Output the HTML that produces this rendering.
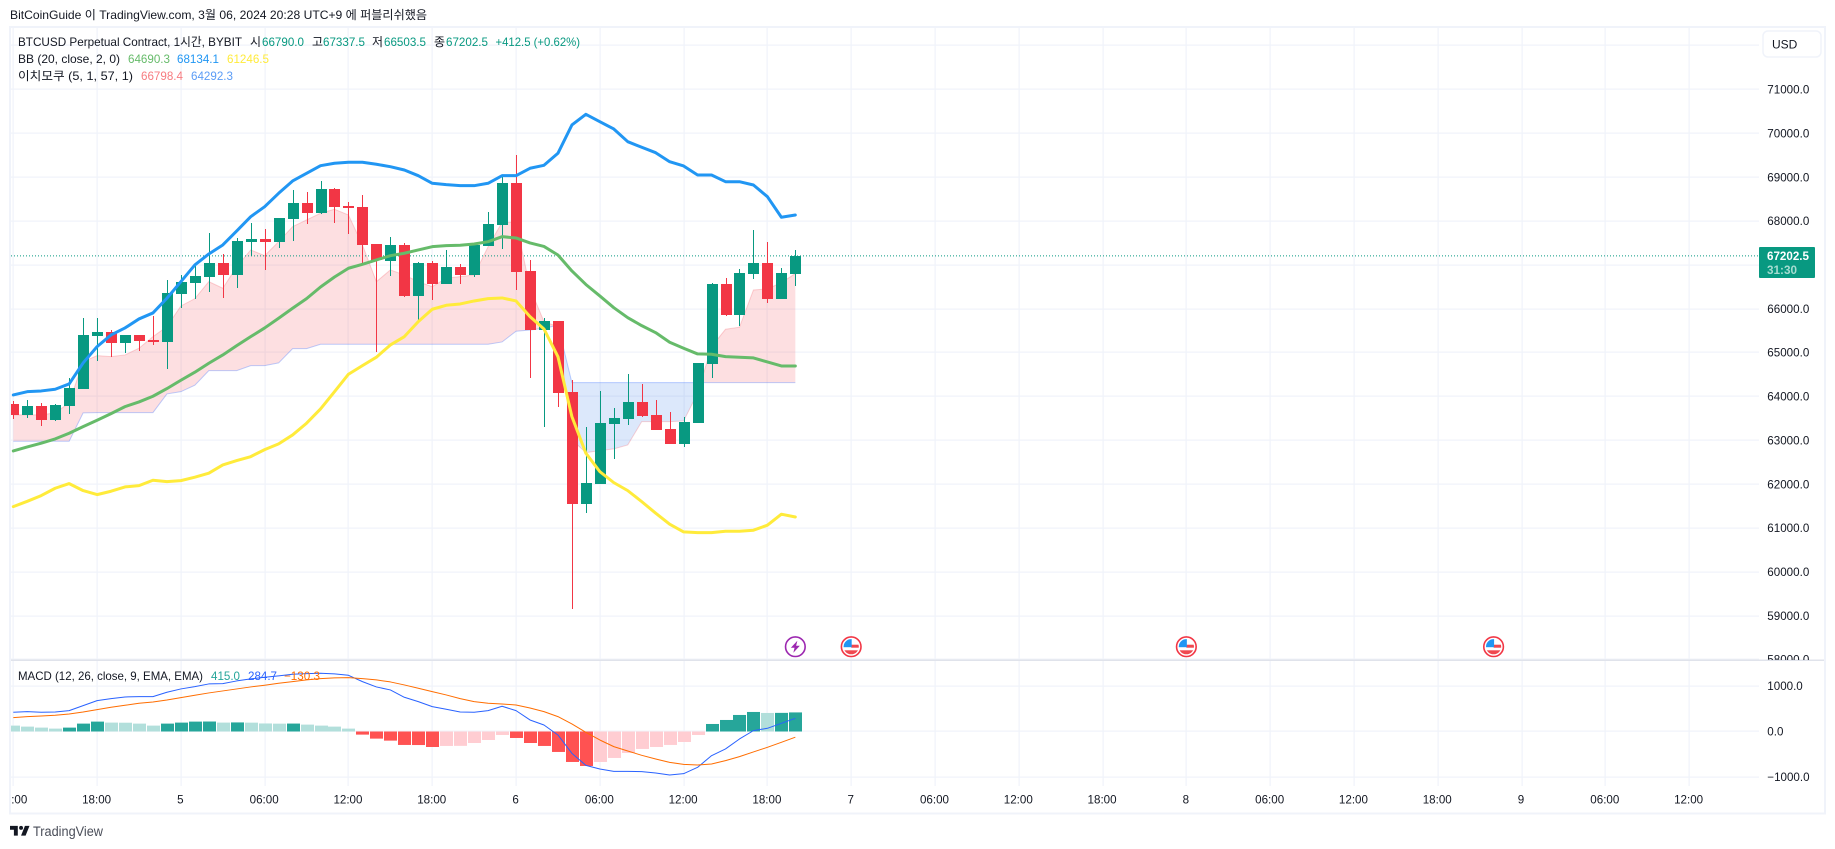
<!DOCTYPE html>
<html lang="ko">
<head>
<meta charset="utf-8">
<title>BTCUSD Perpetual Contract</title>
<style>
html,body{margin:0;padding:0;background:#fff;width:1835px;height:849px;overflow:hidden}
svg{position:absolute;left:0;top:0;display:block}
text{font-family:"Liberation Sans","Noto Sans CJK KR",sans-serif;font-size:12px;fill:#131722}
</style>
</head>
<body>
<svg id="chart" xmlns="http://www.w3.org/2000/svg" width="1835" height="849" viewBox="0 0 1835 849">
  <defs>
    <clipPath id="main-clip"><rect x="11" y="28" width="1748" height="632"/></clipPath>
    <clipPath id="macd-clip"><rect x="11" y="661" width="1748" height="125"/></clipPath>
    <clipPath id="time-clip"><rect x="11.5" y="786" width="1748" height="27"/></clipPath>
    <clipPath id="price-clip"><rect x="1759" y="28" width="66" height="632"/></clipPath>
  </defs>

  <text x="10" y="19" textLength="417" lengthAdjust="spacingAndGlyphs" fill="#131722">BitCoinGuide 이 TradingView.com, 3월 06, 2024 20:28 UTC+9 에 퍼블리쉬했음</text>

  <g id="grid"></g>
  <g id="main-pane" clip-path="url(#main-clip)"></g>
  <g id="macd-pane" clip-path="url(#macd-clip)"></g>

  <rect x="10" y="27" width="1815" height="786.5" fill="none" stroke="#f0f3fa" stroke-width="2"/>
  <rect x="11" y="659.5" width="1813" height="1.5" fill="#e0e3eb"/>

  <g id="price-axis" clip-path="url(#price-clip)"></g>
  <g id="macd-axis"></g>
  <g id="time-axis" clip-path="url(#time-clip)"></g>
  <g id="events"></g>

  <g>
    <text x="18" y="46" textLength="224" lengthAdjust="spacingAndGlyphs">BTCUSD Perpetual Contract, 1시간, BYBIT</text>
    <text x="250" y="46">시</text>
    <text x="262" y="46" textLength="42" lengthAdjust="spacingAndGlyphs" style="fill:#089981">66790.0</text>
    <text x="312" y="46">고</text>
    <text x="323" y="46" textLength="42" lengthAdjust="spacingAndGlyphs" style="fill:#089981">67337.5</text>
    <text x="372" y="46">저</text>
    <text x="384" y="46" textLength="42" lengthAdjust="spacingAndGlyphs" style="fill:#089981">66503.5</text>
    <text x="434" y="46">종</text>
    <text x="446" y="46" textLength="42" lengthAdjust="spacingAndGlyphs" style="fill:#089981">67202.5</text>
    <text x="495.5" y="46" textLength="84.5" lengthAdjust="spacingAndGlyphs" style="fill:#089981">+412.5 (+0.62%)</text>
  </g>
  <g>
    <text x="18" y="63" textLength="102" lengthAdjust="spacingAndGlyphs">BB (20, close, 2, 0)</text>
    <text x="128" y="63" textLength="42" lengthAdjust="spacingAndGlyphs" style="fill:#66bb6a">64690.3</text>
    <text x="177" y="63" textLength="42" lengthAdjust="spacingAndGlyphs" style="fill:#2196f3">68134.1</text>
    <text x="227" y="63" textLength="42" lengthAdjust="spacingAndGlyphs" style="fill:#ffeb3b">61246.5</text>
  </g>
  <g>
    <text x="18" y="80" textLength="115" lengthAdjust="spacingAndGlyphs">이치모쿠 (5, 1, 57, 1)</text>
    <text x="141" y="80" textLength="42" lengthAdjust="spacingAndGlyphs" style="fill:#f77c80">66798.4</text>
    <text x="191" y="80" textLength="42" lengthAdjust="spacingAndGlyphs" style="fill:#5b9cf6">64292.3</text>
  </g>
  <g>
    <text x="18" y="680" textLength="185" lengthAdjust="spacingAndGlyphs">MACD (12, 26, close, 9, EMA, EMA)</text>
    <text x="211" y="680" textLength="29" lengthAdjust="spacingAndGlyphs" style="fill:#26a69a">415.0</text>
    <text x="248" y="680" textLength="29" lengthAdjust="spacingAndGlyphs" style="fill:#2962ff">284.7</text>
    <text x="284" y="680" textLength="36" lengthAdjust="spacingAndGlyphs" style="fill:#ff6d00">−130.3</text>
  </g>

  <g>
    <rect x="1763" y="31" width="58" height="26" rx="5" fill="#fff" stroke="#f0f3fa" stroke-width="1.5"/>
    <text x="1772" y="48.5">USD</text>
  </g>

  <g>
    <rect x="1759" y="247" width="56" height="31" rx="1" fill="#089981"/>
    <text x="1767" y="260" textLength="42" lengthAdjust="spacingAndGlyphs" font-weight="700" style="fill:#ffffff;font-weight:700">67202.5</text>
    <text x="1767" y="274" style="fill:#a6dcd1;font-weight:700" textLength="30" lengthAdjust="spacingAndGlyphs">31:30</text>
  </g>

  <g>
    <path transform="translate(8.7 822) scale(0.65)" fill="#131722" d="M14 6H2v6h6v9h6V6Zm12 15h-7l6-15h7l-6 15Zm-7-9a3 3 0 1 0 0-6 3 3 0 0 0 0 6Z"/>
    <text x="33" y="836" textLength="70" lengthAdjust="spacingAndGlyphs" style="font-size:13.5px;fill:#4a4e59">TradingView</text>
  </g>
</svg>

<script>
// ---------- data ----------
const priceTickLabels = ['72000.0','71000.0','70000.0','69000.0','68000.0','67000.0','66000.0','65000.0','64000.0','63000.0','62000.0','61000.0','60000.0','59000.0','58000.0'];
const macdTickLabels = ['1000.0','0.0','-1000.0'];
const timeTickBars = [0,6,12,18,24,30,36,42,48,54,60,66,72,78,84,90,96,102,108,114,120];
const timeTickLabels = ['12:00','18:00','5','06:00','12:00','18:00','6','06:00','12:00','18:00','7','06:00','12:00','18:00','8','06:00','12:00','18:00','9','06:00','12:00'];
const boldTickLabels = ['5','6','7','8','9'];
const lastPrice = 67202.5;
const lightningEventBars = [56];
const usEventBars = [60,84,106];

const opens = [63825,63574,63779,63460,63779,64167,65375,65466,65216,65398,65284,65238,66333,66584,66720,67040,66766,67518,67587,67518,68043,68408,68180,68727,68339,68316,67473,67085,67450,66287,67040,66561,66948,66766,67427,67906,68864,66857,65512,65717,64098,61545,62001,63369,63483,63870,63574,63255,62913,63392,64737,66561,65854,66789,67040,66219,66790];
const highs = [63893,63916,63848,63825,64418,65786,65786,65512,65398,65398,65831,66652,66766,67040,67724,67245,67610,67952,67815,68066,68704,68658,68909,68750,68430,68590,67473,67632,67496,67062,67085,67336,67017,67450,68202,69000,69502,67108,65786,65717,64372,63300,64121,63734,64509,64281,63916,63642,63528,64760,66584,66698,66903,67792,67518,66926,67337.5];
const lows = [63490,63512,63323,63437,63597,64167,64805,64896,64988,65033,65170,64623,66014,66219,66378,66242,66470,67199,66880,67382,67541,67929,68157,67952,67701,67040,65010,66743,66264,65717,66196,66561,66561,66720,67427,67359,66424,64418,63300,63756,59151,61340,62001,62571,63346,63528,63232,62913,62844,63392,64418,65831,65603,66675,66128,66219,66503.5];
const closes = [63580,63779,63460,63802,64190,65398,65466,65216,65398,65261,65238,66356,66606,66743,67040,66766,67541,67587,67518,68066,68408,68180,68727,68316,68294,67450,67108,67450,66287,67040,66561,66948,66766,67450,67929,68864,66834,65512,65717,64076,61545,62024,63392,63506,63870,63551,63232,62913,63414,64760,66561,65854,66812,67040,66219,66812,67202.5];

const bbUpper = [64030,64105,64121,64160,64281,64760,65131,65398,65558,65763,65900,66235,66613,66994,67245,67450,67769,68095,68323,68629,68909,69085,69258,69313,69336,69336,69290,69235,69160,69030,68857,68825,68802,68802,68857,69030,69030,69199,69267,69541,70186,70430,70261,70095,69805,69678,69554,69349,69251,69046,69046,68893,68893,68818,68551,68082,68134];
const bbBasis = [62753,62844,62929,63027,63157,63307,63453,63604,63763,63870,64000,64174,64365,64548,64753,64942,65154,65359,65558,65779,66007,66226,66492,66720,66919,67010,67108,67206,67261,67336,67411,67434,67443,67473,67525,67639,67610,67496,67416,67222,66857,66549,66287,66020,65792,65610,65450,65232,65095,64965,64958,64903,64890,64874,64782,64691,64690];
const bbLower = [61483,61604,61734,61902,62008,61848,61757,61834,61932,61962,62085,62053,62076,62154,62245,62434,62532,62623,62783,62913,63118,63385,63711,64105,64502,64698,64890,65170,65359,65701,65984,66075,66105,66173,66226,66242,66173,65815,65535,64903,63535,62701,62281,62030,61848,61597,61333,61082,60906,60891,60891,60922,60922,60945,61059,61310,61246];

const ichiConversion = [63574,63574,63574,63620,63848,64789,64926,64903,64942,65095,65359,65587,66059,66226,66613,66463,66955,67336,67206,67525,67867,68020,68173,68264,68134,67450,66613,66880,66766,66613,66499,66691,66727,66766,67411,67968,67968,66470,65701,65587,63004,62714,62760,62799,62890,63421,63421,63421,63437,64069,65131,65528,65574,66424,66447,66591,66798];
const ichiLead = [62974,62974,62974,62974,62974,63620,63627,63627,63627,63627,63627,64053,64105,64251,64584,64584,64584,64698,64698,64760,65086,65086,65186,65186,65186,65186,65186,65186,65186,65186,65186,65186,65186,65186,65186,65238,65482,65512,65551,65619,64310,64310,64310,64310,64310,64310,64310,64310,64310,64310,64310,64310,64310,64310,64310,64310,64310];

const macdHist = [125,103,81,59,81,169,213,191,189,169,125,169,191,213,215,191,195,190,172,168,170,147,125,103,59,-73,-161,-205,-300,-302,-345,-322,-320,-257,-191,-81,-147,-257,-322,-454,-674,-762,-674,-586,-476,-388,-345,-300,-235,-81,161,249,359,425,403,405,415];
const macdLine = [418,432,418,425,454,564,674,718,755,762,762,858,931,982,1041,1048,1107,1151,1187,1217,1253,1268,1275,1261,1231,1092,975,909,748,652,542,484,425,418,454,550,454,249,139,-81,-484,-748,-828,-880,-880,-887,-916,-960,-931,-792,-535,-388,-169,15,66,176,285];
const macdSignal = [301,323,337,352,381,425,476,528,572,616,645,689,740,792,843,887,931,975,1012,1056,1092,1129,1158,1173,1180,1158,1129,1085,1019,946,872,799,718,652,616,601,579,513,432,323,161,-22,-191,-337,-432,-528,-608,-682,-726,-740,-718,-645,-557,-454,-352,-242,-130];

// ---------- axis functions ----------
function xBar(i){ return 13.3 + i * 13.965; }
function yPrice(p){ return 89.3 + (71000 - p) * 0.04385; }
function yMacd(v){ return 731.3 - v * 0.0455; }

const NS = 'http://www.w3.org/2000/svg';
function make(tag, parent, attrs){
  const el = document.createElementNS(NS, tag);
  for (const k in attrs) el.setAttribute(k, attrs[k]);
  parent.appendChild(el);
  return el;
}
const gridG = document.getElementById('grid');
const mainG = document.getElementById('main-pane');
const macdG = document.getElementById('macd-pane');
const priceAxisG = document.getElementById('price-axis');
const macdAxisG = document.getElementById('macd-axis');
const timeAxisG = document.getElementById('time-axis');
const eventsG = document.getElementById('events');

// ---------- grid & axes ----------
priceTickLabels.forEach(function(label){
  const y = yPrice(parseFloat(label));
  const line = make('rect', gridG, {x:11, y:Math.round(y)-0.5, width:1748, height:1.2, fill:'#f0f3fa'});
  
  
  if (label !== '72000.0') {
    const t = make('text', priceAxisG, {x:1767.3, y:y+4.3, textLength:42, lengthAdjust:'spacingAndGlyphs'});
    
    
    t.textContent = label;
  }
});
macdTickLabels.forEach(function(label){
  const y = yMacd(parseFloat(label));
  const line = make('rect', gridG, {x:11, y:Math.round(y)-0.5, width:1748, height:1.2, fill:'#f0f3fa'});
  
  
  const t = make('text', macdAxisG, {x:1767.3, y:y+4.3});
  
  
  t.style.fontSize = '11.6px';
  t.textContent = label.replace('-', '−');
});
timeTickBars.forEach(function(bar, k){
  const x = xBar(bar);
  const line = make('rect', gridG, {x:Math.round(x)-0.5, y:28, width:1.2, height:758, fill:'#f0f3fa'});
  
  
  const label = timeTickLabels[k];
  const t = make('text', timeAxisG, {x:x-0.5, y:803.5, 'text-anchor':'middle'});
  
  
  t.style.fontSize = '11.6px';
  if (boldTickLabels.indexOf(label) >= 0) t.style.fontWeight = '400';
  t.textContent = label;
});

// ---------- ichimoku cloud ----------
let pinkD = '', blueD = '';
for (let i = 0; i < closes.length - 1; i++) {
  const x0 = xBar(i), x1 = xBar(i+1);
  const a0 = yPrice(ichiConversion[i]), a1 = yPrice(ichiConversion[i+1]);
  const b0 = yPrice(ichiLead[i]), b1 = yPrice(ichiLead[i+1]);
  const s0 = ichiConversion[i] - ichiLead[i], s1 = ichiConversion[i+1] - ichiLead[i+1];
  if (s0 >= 0 && s1 >= 0) {
    pinkD += 'M'+x0+' '+a0+'L'+x1+' '+a1+'L'+x1+' '+b1+'L'+x0+' '+b0+'Z';
  } else if (s0 <= 0 && s1 <= 0) {
    blueD += 'M'+x0+' '+a0+'L'+x1+' '+a1+'L'+x1+' '+b1+'L'+x0+' '+b0+'Z';
  } else {
    const t = s0 / (s0 - s1);
    const cx = x0 + (x1 - x0) * t, cy = a0 + (a1 - a0) * t;
    const first = 'M'+x0+' '+a0+'L'+cx+' '+cy+'L'+x0+' '+b0+'Z';
    const second = 'M'+cx+' '+cy+'L'+x1+' '+a1+'L'+x1+' '+b1+'Z';
    if (s0 > 0) { pinkD += first; blueD += second; } else { blueD += first; pinkD += second; }
  }
}
const pinkFill = make('path', mainG, {d:pinkD, fill:'rgba(242,54,69,0.16)'});


const blueFill = make('path', mainG, {d:blueD, fill:'rgba(33,110,230,0.155)'});



function polyPoints(values, yFn){
  return values.map(function(v, i){ return xBar(i).toFixed(2) + ',' + yFn(v).toFixed(2); }).join(' ');
}
const convLine = make('polyline', mainG, {points:polyPoints(ichiConversion, yPrice), fill:'none', stroke:'rgba(242,54,69,0.22)', 'stroke-width':1});


const leadLine = make('polyline', mainG, {points:polyPoints(ichiLead, yPrice), fill:'none', stroke:'rgba(41,98,255,0.3)', 'stroke-width':1});



// ---------- last price line ----------
const lastLine = make('line', mainG, {x1:11, x2:1759, y1:yPrice(lastPrice), y2:yPrice(lastPrice), stroke:'#089981', 'stroke-width':1, 'stroke-dasharray':'1 2'});



// ---------- candles ----------
closes.forEach(function(c, i){
  const o = opens[i], up = c >= o;
  const col = up ? '#089981' : '#f23645';
  const cx = Math.round(xBar(i));
  const topY = Math.round(yPrice(Math.max(o, c)));
  const botY = Math.round(yPrice(Math.min(o, c)));
  const g = make('g', mainG, {});
  
  
  const hY = Math.round(yPrice(highs[i])), lY = Math.round(yPrice(lows[i]));
  make('rect', g, {x:cx, y:hY, width:1, height:Math.max(1, lY-hY), fill:col, 'shape-rendering':'crispEdges'});
  make('rect', g, {x:cx-5, y:topY, width:11, height:Math.max(2, botY-topY), fill:col, 'shape-rendering':'crispEdges'});
});

// ---------- bollinger bands ----------
const upperLine = make('polyline', mainG, {points:polyPoints(bbUpper, yPrice), fill:'none', stroke:'#2196f3', 'stroke-width':3, 'stroke-linejoin':'round', 'stroke-linecap':'round'});


const basisLine = make('polyline', mainG, {points:polyPoints(bbBasis, yPrice), fill:'none', stroke:'#66bb6a', 'stroke-width':3, 'stroke-linejoin':'round', 'stroke-linecap':'round'});


const lowerLine = make('polyline', mainG, {points:polyPoints(bbLower, yPrice), fill:'none', stroke:'#ffeb3b', 'stroke-width':3, 'stroke-linejoin':'round', 'stroke-linecap':'round'});



// ---------- MACD ----------
macdHist.forEach(function(v, i){
  const prev = i > 0 ? macdHist[i-1] : v + 1;
  let col;
  if (v >= 0) col = v > prev ? '#26a69a' : '#b2dfdb';
  else col = v < prev ? '#ff5252' : '#ffcdd2';
  const cx = Math.round(xBar(i));
  const y0 = 731.5, y1 = yMacd(v);
  const bar = make('rect', macdG, {x:cx-6, y:Math.min(y0, y1), width:13, height:Math.abs(y1-y0), fill:col});
  
  
});
const macdL = make('polyline', macdG, {points:polyPoints(macdLine, yMacd), fill:'none', stroke:'#2962ff', 'stroke-width':1, 'stroke-linejoin':'round'});


const signalL = make('polyline', macdG, {points:polyPoints(macdSignal, yMacd), fill:'none', stroke:'#ff6d00', 'stroke-width':1, 'stroke-linejoin':'round'});



// ---------- event markers ----------
lightningEventBars.forEach(function(bar){
  const x = xBar(bar), y = 646.7;
  const g = make('g', eventsG, {transform:'translate(' + x + ' ' + y + ')'});
  
  
  make('circle', g, {r:9.8, fill:'#fff', stroke:'#9c27b0', 'stroke-width':1.6});
  make('polygon', g, {points:'2,-6 -4.5,1 -0.8,1 -2,6 4.5,-1 0.8,-1', fill:'#9c27b0'});
});
usEventBars.forEach(function(bar, k){
  const x = xBar(bar), y = 646.7;
  const g = make('g', eventsG, {transform:'translate(' + x + ' ' + y + ')'});
  
  
  const clipId = 'flag-clip-' + k;
  const cp = make('clipPath', g, {id:clipId});
  make('circle', cp, {r:7.6});
  make('circle', g, {r:9.8, fill:'#fff', stroke:'#f23645', 'stroke-width':1.6});
  const f = make('g', g, {'clip-path':'url(#' + clipId + ')'});
  make('rect', f, {x:-8, y:-8, width:16, height:16, fill:'#fff'});
  make('rect', f, {x:0, y:-2, width:8, height:3, fill:'#f0484f'});
  make('rect', f, {x:-8, y:3.6, width:16, height:5, fill:'#f0484f'});
  make('rect', f, {x:-8, y:-8, width:8.5, height:8.5, fill:'#2196f3'});
});
</script>
</body>
</html>
